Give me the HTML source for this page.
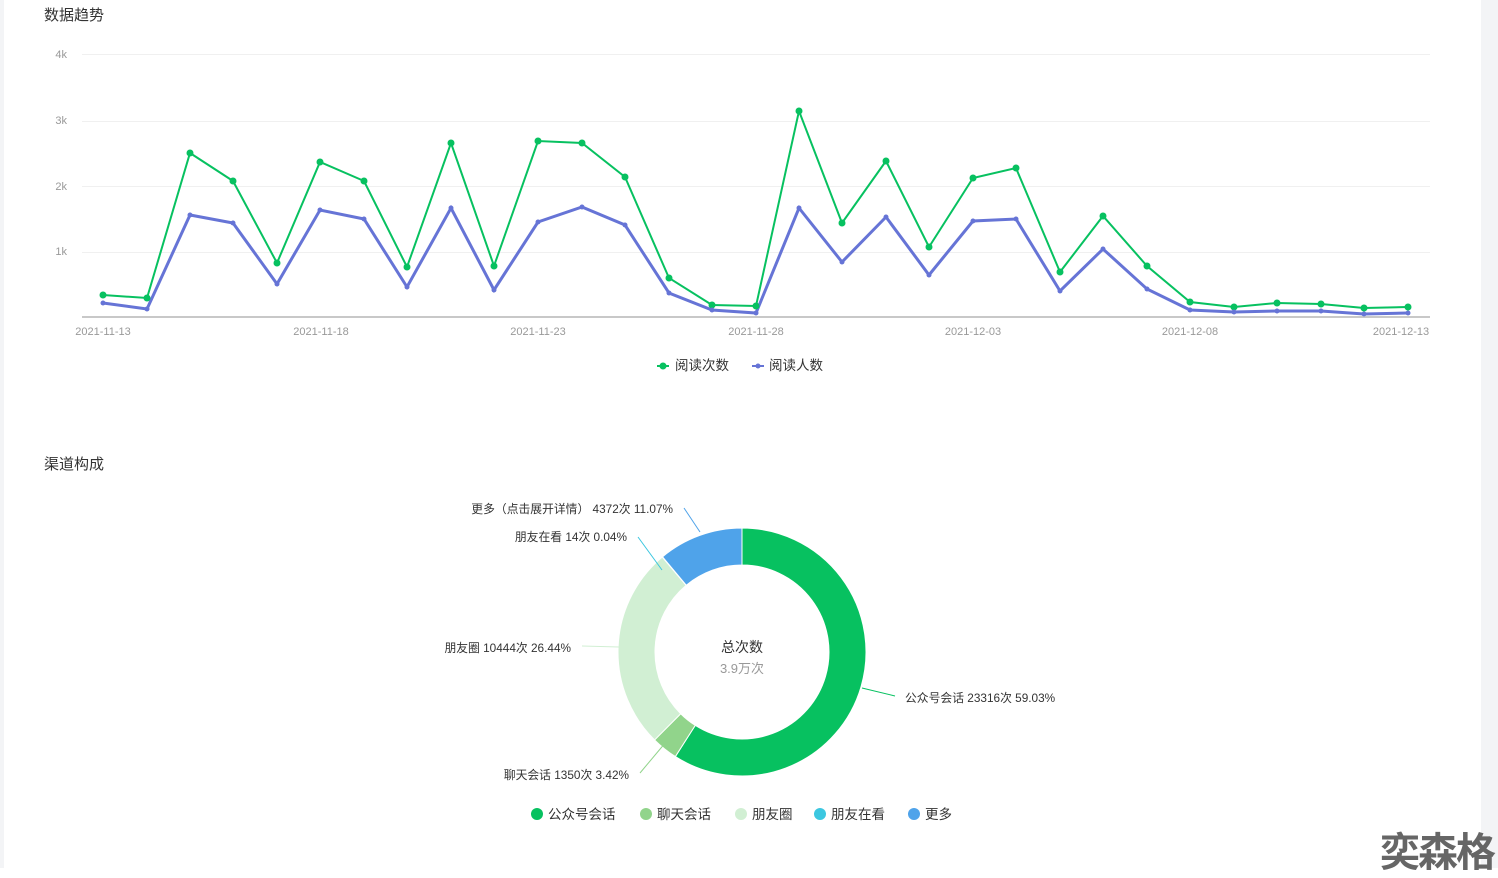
<!DOCTYPE html>
<html><head><meta charset="utf-8"><style>
body{margin:0;width:1498px;height:868px;background:#fff;position:relative;overflow:hidden;font-family:"Liberation Sans","Noto Sans CJK SC",sans-serif;}
.lstrip{position:absolute;left:0;top:0;width:4px;height:868px;background:#f3f4f6}
.rstrip{position:absolute;left:1481px;top:0;width:17px;height:868px;background:#f3f4f6}
.t{position:absolute;font-size:15px;color:#333}
.wm{position:absolute;left:1380px;top:820px;font-size:40px;font-weight:bold;color:#666;letter-spacing:-2px;font-family:"Noto Sans CJK SC",sans-serif}
</style></head><body>
<div class="lstrip"></div><div class="rstrip"></div>
<div class="t" style="left:44px;top:4px">数据趋势</div>
<div class="t" style="left:44px;top:453px">渠道构成</div>
<svg width="1498" height="868" style="position:absolute;left:0;top:0" font-family="Liberation Sans, Noto Sans CJK SC, sans-serif">
<g stroke="#f0f0f0" stroke-width="1">
<line x1="82" y1="54.5" x2="1430" y2="54.5"/><line x1="82" y1="121.5" x2="1430" y2="121.5"/><line x1="82" y1="186.5" x2="1430" y2="186.5"/><line x1="82" y1="252.5" x2="1430" y2="252.5"/>
</g>
<line x1="82" y1="317" x2="1430" y2="317" stroke="#c8c8c8" stroke-width="2"/>
<g font-size="11" fill="#999" text-anchor="end"><text x="67" y="58">4k</text><text x="67" y="124">3k</text><text x="67" y="190">2k</text><text x="67" y="255">1k</text></g>
<g font-size="11" fill="#999" text-anchor="middle"><text x="103" y="335">2021-11-13</text><text x="321" y="335">2021-11-18</text><text x="538" y="335">2021-11-23</text><text x="756" y="335">2021-11-28</text><text x="973" y="335">2021-12-03</text><text x="1190" y="335">2021-12-08</text><text x="1401" y="335">2021-12-13</text></g>
<polyline id="gl" fill="none" stroke="#07c160" stroke-width="2" points="103,295 147,298 190,153 233,181 277,263 320,162 364,181 407,267 451,143 494,266 538,141 582,143 625,177 669,278 712,305 756,306 799,111 842,223 886,161 929,247 973,178 1016,168 1060,272 1103,216 1147,266 1190,302 1234,307 1277,303 1321,304 1364,308 1408,307"/>
<polyline id="bl" fill="none" stroke="#6674d6" stroke-width="3" points="103,303 147,309 190,215 233,223 277,284 320,210 364,219 407,287 451,208 494,290 538,222 582,207 625,225 669,293 712,310 756,313 799,208 842,262 886,217 929,275 973,221 1016,219 1060,291 1103,249 1147,289 1190,310 1234,312 1277,311 1321,311 1364,314 1408,313"/>
<g id="marks"></g>
<line x1="657" y1="366" x2="669" y2="366" stroke="#07c160" stroke-width="2"/><circle cx="663" cy="366" r="3.5" fill="#07c160"/>
<text x="675" y="370" font-size="13.5" fill="#333">阅读次数</text>
<line x1="752" y1="366" x2="764" y2="366" stroke="#6674d6" stroke-width="2"/><circle cx="758" cy="366" r="2.5" fill="#6674d6"/>
<text x="769" y="370" font-size="13.5" fill="#333">阅读人数</text>
<g id="pie"></g>
<text x="742" y="652" font-size="14" fill="#333" text-anchor="middle">总次数</text>
<text x="742" y="673" font-size="13" fill="#999" text-anchor="middle">3.9万次</text>
<g fill="none" stroke-width="1">
<polyline points="862,688 895,696" stroke="#07c160"/>
<polyline points="666,742 640,773" stroke="#91d48b"/>
<polyline points="619,647 582,646" stroke="#d1efd3"/>
<polyline points="662,570 638,537" stroke="#3cc7e0"/>
<polyline points="700,532 684,508" stroke="#4fa3ea"/>
</g>
<g font-size="11.8" fill="#333">
<text x="905" y="702">公众号会话 23316次 59.03%</text>
<text x="629" y="779" text-anchor="end">聊天会话 1350次 3.42%</text>
<text x="571" y="652" text-anchor="end">朋友圈 10444次 26.44%</text>
<text x="627" y="541" text-anchor="end">朋友在看 14次 0.04%</text>
<text x="673" y="513" text-anchor="end">更多（点击展开详情） 4372次 11.07%</text>
</g>
<g font-size="13.5" fill="#333">
<circle cx="537" cy="814" r="6" fill="#07c160"/><text x="548" y="819">公众号会话</text>
<circle cx="646" cy="814" r="6" fill="#91d48b"/><text x="657" y="819">聊天会话</text>
<circle cx="741" cy="814" r="6" fill="#d1efd3"/><text x="752" y="819">朋友圈</text>
<circle cx="820" cy="814" r="6" fill="#3cc7e0"/><text x="831" y="819">朋友在看</text>
<circle cx="914" cy="814" r="6" fill="#4fa3ea"/><text x="925" y="819">更多</text>
</g>
</svg>
<div class="wm">奕森格</div>
<script>
var NS="http://www.w3.org/2000/svg",m=document.getElementById("marks");
function pts(id){return document.getElementById(id).getAttribute("points").split(" ").map(function(p){return p.split(",").map(Number)});}
pts("gl").forEach(function(p){var c=document.createElementNS(NS,"circle");c.setAttribute("cx",p[0]);c.setAttribute("cy",p[1]);c.setAttribute("r",3.5);c.setAttribute("fill","#07c160");m.appendChild(c);});
pts("bl").forEach(function(p){var c=document.createElementNS(NS,"circle");c.setAttribute("cx",p[0]);c.setAttribute("cy",p[1]);c.setAttribute("r",2.5);c.setAttribute("fill","#6674d6");m.appendChild(c);});
var cx=742,cy=652,R=124,r=87,segs=[[59.03,"#07c160"],[3.42,"#91d48b"],[26.44,"#d1efd3"],[0.04,"#3cc7e0"],[11.07,"#4fa3ea"]],a=0,g=document.getElementById("pie");
function P(rad,ang){return [cx+rad*Math.sin(ang),cy-rad*Math.cos(ang)];}
segs.forEach(function(s){var a1=a+s[0]/100*2*Math.PI,l=(a1-a)>Math.PI?1:0;var p1=P(R,a),p2=P(R,a1),p3=P(r,a1),p4=P(r,a);
var d="M"+p1+" A"+R+","+R+" 0 "+l+" 1 "+p2+" L"+p3+" A"+r+","+r+" 0 "+l+" 0 "+p4+"Z";
var e=document.createElementNS(NS,"path");e.setAttribute("d",d);e.setAttribute("fill",s[1]);e.setAttribute("stroke","#fff");e.setAttribute("stroke-width","1");g.appendChild(e);a=a1;});
</script>
</body></html>
